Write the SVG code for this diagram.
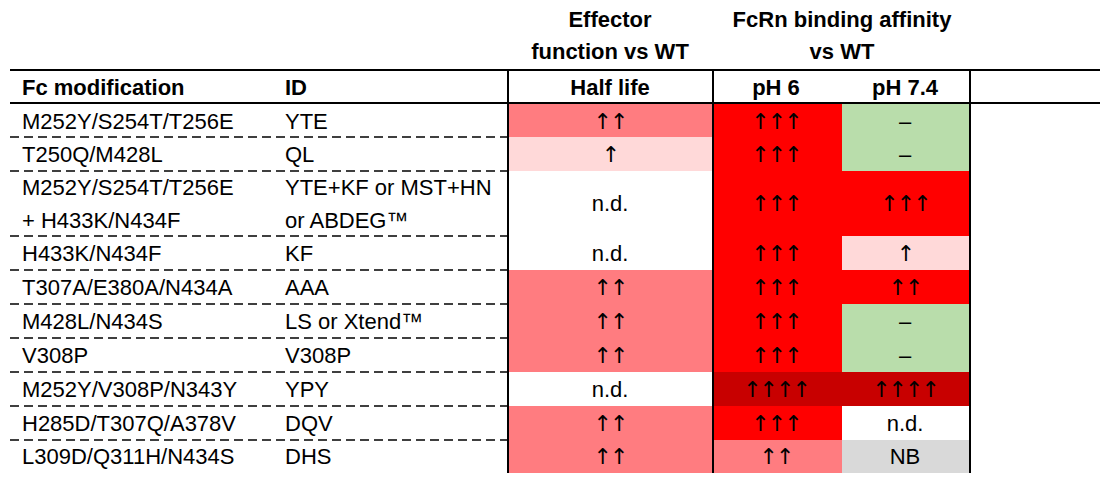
<svg xmlns="http://www.w3.org/2000/svg" width="1116" height="480" viewBox="0 0 1116 480">
<style>
text{font-family:"Liberation Sans",Arial,sans-serif;font-size:22px;fill:#000}
.b{font-weight:bold}
.c{text-anchor:middle}
.a{font-family:"DejaVu Sans",sans-serif;font-size:22px;letter-spacing:-2px}
.s{stroke:#000;stroke-width:2;fill:none}
.d{stroke:#000;stroke-width:1.6;stroke-dasharray:9,5;fill:none}
</style>
<rect width="1116" height="480" fill="#fff"/>
<g id="cells">
<rect x="508" y="104" width="205" height="33" fill="#FF7C80"/>
<rect x="508" y="137" width="205" height="34" fill="#FFD9D9"/>
<rect x="508" y="270" width="205" height="102" fill="#FF7C80"/>
<rect x="508" y="406" width="205" height="67" fill="#FF7C80"/>
<rect x="713" y="104" width="129" height="268" fill="#FF0000"/>
<rect x="842" y="104" width="128" height="67" fill="#B9DDAB"/>
<rect x="842" y="171" width="128" height="65" fill="#FF0000"/>
<rect x="842" y="236" width="128" height="34" fill="#FFD9D9"/>
<rect x="842" y="270" width="128" height="34" fill="#FF0000"/>
<rect x="842" y="304" width="128" height="68" fill="#B9DDAB"/>
<rect x="713" y="372" width="257" height="34" fill="#C80000"/>
<rect x="713" y="406" width="129" height="34" fill="#FF0000"/>
<rect x="713" y="440" width="129" height="33" fill="#FF7C80"/>
<rect x="842" y="440" width="128" height="33" fill="#D9D9D9"/>
</g>
<g id="lines">
<line class="s" x1="10" y1="70" x2="1100" y2="70"/>
<line class="s" x1="10" y1="103" x2="1100" y2="103"/>
<line class="s" x1="508" y1="70" x2="508" y2="473"/>
<line class="s" x1="713" y1="70" x2="713" y2="473"/>
<line class="s" x1="970" y1="70" x2="970" y2="473"/>
<path class="d" d="M10 137H508M10 171H508M10 236H508M10 270H508M10 304H508M10 338H508M10 372H508M10 406H508M10 440H508"/>
</g>
<g id="header">
<text class="b c" x="610" y="27">Effector</text>
<text class="b c" x="610" y="59">function vs WT</text>
<text class="b c" x="842" y="27">FcRn binding affinity</text>
<text class="b c" x="842" y="59">vs WT</text>
<text class="b" x="22" y="95">Fc modification</text>
<text class="b" x="285" y="95">ID</text>
<text class="b c" x="610" y="95">Half life</text>
<text class="b c" x="776" y="95">pH 6</text>
<text class="b c" x="905" y="95">pH 7.4</text>
</g>
<g id="rows">
<text x="22" y="129">M252Y/S254T/T256E</text><text x="285" y="129">YTE</text>
<text class="c a" x="610" y="129">↑↑</text><text class="c a" x="776" y="129">↑↑↑</text><text class="c" x="905" y="129">–</text>
<text x="22" y="162">T250Q/M428L</text><text x="285" y="162">QL</text>
<text class="c a" x="610" y="162">↑</text><text class="c a" x="776" y="162">↑↑↑</text><text class="c" x="905" y="162">–</text>
<text x="22" y="195">M252Y/S254T/T256E</text><text x="285" y="195">YTE+KF or MST+HN</text>
<text x="22" y="228">+ H433K/N434F</text><text x="285" y="228">or ABDEG™</text>
<text class="c" x="610" y="211">n.d.</text><text class="c a" x="776" y="211">↑↑↑</text><text class="c a" x="905" y="211">↑↑↑</text>
<text x="22" y="261">H433K/N434F</text><text x="285" y="261">KF</text>
<text class="c" x="610" y="261">n.d.</text><text class="c a" x="776" y="261">↑↑↑</text><text class="c a" x="905" y="261">↑</text>
<text x="22" y="295">T307A/E380A/N434A</text><text x="285" y="295">AAA</text>
<text class="c a" x="610" y="295">↑↑</text><text class="c a" x="776" y="295">↑↑↑</text><text class="c a" x="905" y="295">↑↑</text>
<text x="22" y="329">M428L/N434S</text><text x="285" y="329">LS or Xtend™</text>
<text class="c a" x="610" y="329">↑↑</text><text class="c a" x="776" y="329">↑↑↑</text><text class="c" x="905" y="329">–</text>
<text x="22" y="363">V308P</text><text x="285" y="363">V308P</text>
<text class="c a" x="610" y="363">↑↑</text><text class="c a" x="776" y="363">↑↑↑</text><text class="c" x="905" y="363">–</text>
<text x="22" y="397">M252Y/V308P/N343Y</text><text x="285" y="397">YPY</text>
<text class="c" x="610" y="397">n.d.</text><text class="c a" x="776" y="397">↑↑↑↑</text><text class="c a" x="905" y="397">↑↑↑↑</text>
<text x="22" y="431">H285D/T307Q/A378V</text><text x="285" y="431">DQV</text>
<text class="c a" x="610" y="431">↑↑</text><text class="c a" x="776" y="431">↑↑↑</text><text class="c" x="905" y="431">n.d.</text>
<text x="22" y="464">L309D/Q311H/N434S</text><text x="285" y="464">DHS</text>
<text class="c a" x="610" y="464">↑↑</text><text class="c a" x="776" y="464">↑↑</text><text class="c" x="905" y="464">NB</text>
</g>
</svg>
